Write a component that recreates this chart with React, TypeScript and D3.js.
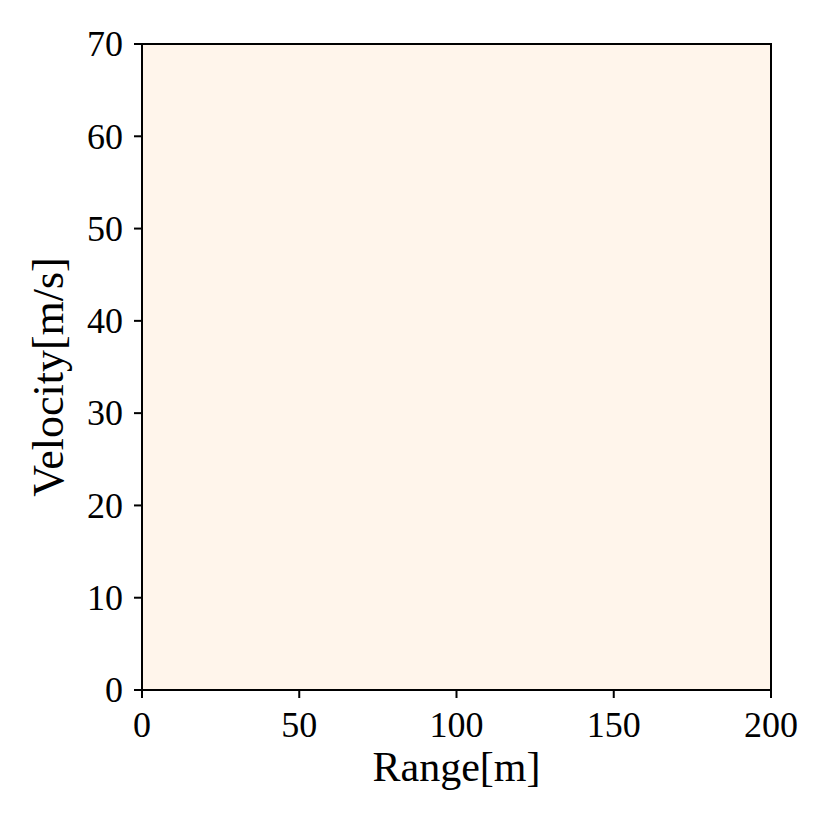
import React from "react";
import * as d3 from "d3";

const rangeEdges = [0, 200];
const velocityEdges = [0, 70];
const intensity = [[0]];
const xTicks = [0, 50, 100, 150, 200];
const yTicks = [0, 10, 20, 30, 40, 50, 60, 70];
const xLabel = "Range[m]";
const yLabel = "Velocity[m/s]";

const W = 830, H = 830;
const margin = { left: 142, right: 59, top: 44, bottom: 140 };
const FONT = "'Liberation Serif', 'DejaVu Serif', serif";

export default function App() {
  const x = d3.scaleLinear().domain([0, 200]).range([margin.left, W - margin.right]);
  const y = d3.scaleLinear().domain([0, 70]).range([H - margin.bottom, margin.top]);
  const color = d3.scaleSequential(d3.interpolateOranges).domain([0, 1]);
  const cells: { x0: number; x1: number; y0: number; y1: number; v: number }[] = [];
  for (let j = 0; j < velocityEdges.length - 1; j++) {
    for (let i = 0; i < rangeEdges.length - 1; i++) {
      cells.push({ x0: rangeEdges[i], x1: rangeEdges[i + 1], y0: velocityEdges[j], y1: velocityEdges[j + 1], v: intensity[j][i] });
    }
  }
  const x0 = x(0), x1 = x(200), y0 = y(0), y1 = y(70);
  return (
    <svg width={W} height={H} style={{ position: "absolute", left: 0, top: 0, background: "#fff" }} fontFamily={FONT}>
      {cells.map((c, k) => (
        <rect key={k} x={x(c.x0)} y={y(c.y1)} width={x(c.x1) - x(c.x0)} height={y(c.y0) - y(c.y1)} fill={color(c.v)} />
      ))}
      <rect x={x0} y={y1} width={x1 - x0} height={y0 - y1} fill="none" stroke="#000" strokeWidth={2} />
      {xTicks.map((t) => (
        <g key={"x" + t}>
          <line x1={x(t)} x2={x(t)} y1={y0} y2={y0 + 8} stroke="#000" strokeWidth={2} />
          <text x={x(t)} y={y0 + 47} textAnchor="middle" fontSize={36}>{t}</text>
        </g>
      ))}
      {yTicks.map((t) => (
        <g key={"y" + t}>
          <line x1={x0 - 8} x2={x0} y1={y(t)} y2={y(t)} stroke="#000" strokeWidth={2} />
          <text x={x0 - 19} y={y(t)} dy="0.34em" textAnchor="end" fontSize={36}>{t}</text>
        </g>
      ))}
      <text x={(x0 + x1) / 2} y={781} textAnchor="middle" fontSize={42}>{xLabel}</text>
      <text transform={`translate(63, ${(y0 + y1) / 2 + 10}) rotate(-90)`} textAnchor="middle" fontSize={44}>{yLabel}</text>
    </svg>
  );
}
